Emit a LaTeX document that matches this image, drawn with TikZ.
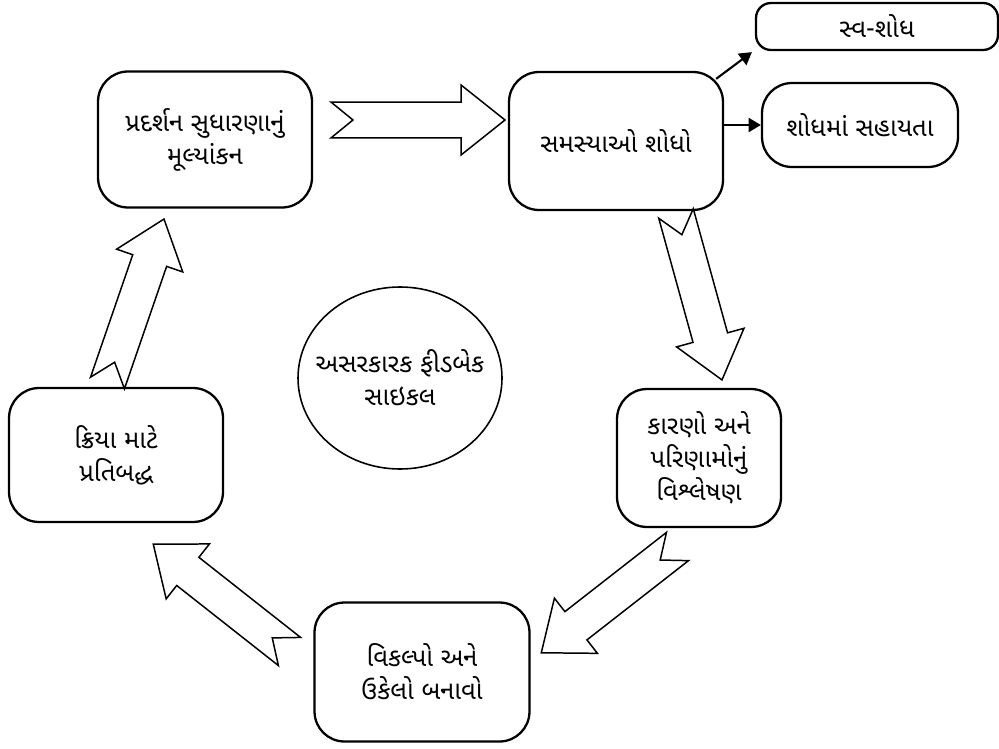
\documentclass[tikz,border=0pt]{standalone}
\usepackage{fontspec}
\newfontfamily\gujfont[Script=Gujarati]{Noto Sans Gujarati UI}
\usetikzlibrary{calc,arrows.meta}

\tikzset{
  stepbox/.style={draw, line width=1.3pt, rounded corners=0.6cm, align=center,
    inner sep=0pt, font=\gujfont\fontsize{14.6}{18.8}\selectfont},
  bigarrow/.style={draw, line width=0.85pt, line join=miter},
  thinarrow/.style={line width=1.2pt, -{Triangle[length=7pt,width=8pt]}}
}

% hollow block arrow with a notched tail, from #1 to #2
\newcommand{\fatarrow}[2]{%
  \draw[bigarrow] let \p1=($(#2)-(#1)$), \n1={atan2(\y1,\x1)}, \n2={veclen(\x1,\y1)} in
    [shift={(#1)}, rotate=\n1]
    (0pt,10.2pt) -- (\n2-25pt,10.2pt) -- (\n2-25pt,19.9pt) -- (\n2,0pt)
    -- (\n2-25pt,-19.9pt) -- (\n2-25pt,-10.2pt) -- (0pt,-10.2pt) -- (12.5pt,0pt) -- cycle;}

\begin{document}
\begin{tikzpicture}[x=0.02cm, y=0.02cm]

    \useasboundingbox (0,0) rectangle (999,748);

    % Draw the boxes of the cycle
    \node[stepbox, minimum width=4.28cm, minimum height=2.72cm] (eval) at (205,608.5) {પ્રદર્શન સુધારણાનું\\મૂલ્યાંકન};
    \node[stepbox, minimum width=4.28cm, minimum height=2.76cm] (find) at (616,607) {સમસ્યાઓ શોધો};
    \node[stepbox, minimum width=3.28cm, minimum height=2.76cm] (analyse) at (699,290) {કારણો અને\\પરિણામોનું\\વિશ્લેષણ};
    \node[stepbox, minimum width=4.3cm, minimum height=2.78cm] (options) at (422,76) {વિકલ્પો અને\\ઉકેલો બનાવો};
    \node[stepbox, minimum width=4.28cm, minimum height=2.68cm] (commit) at (116,293) {ક્રિયા માટે\\પ્રતિબદ્ધ};

    % Draw the two side boxes
    \node[stepbox, rounded corners=0.3cm, minimum width=4.84cm, minimum height=0.94cm] (self) at (877,721.5) {સ્વ-શોધ};
    \node[stepbox, minimum width=3.92cm, minimum height=1.68cm] (help) at (860,623) {શોધમાં સહાયતા};

    % Draw the ellipse in the middle
    \node[align=center, inner sep=0pt, font=\gujfont\fontsize{14.6}{18.8}\selectfont] (core) at (400,370) {અસરકારક ફીડબેક\\સાઇકલ};
    \draw[line width=0.9pt] (core) ellipse [x radius=102, y radius=91];

    % Draw the thin arrows
    \draw[thinarrow] ($(find.north east)+(-8,-8)$) -- ($(self.south west)+(-3,-1)$);
    \draw[thinarrow] (find.east |- help.west) -- (help.west);

    % Draw the block arrows
    \coordinate (t1) at (331,628);   \coordinate (h1) at (505,628);
    \coordinate (t2) at (676,534.5); \coordinate (h2) at (722,368);
    \coordinate (t3) at (677.5,201.5); \coordinate (h3) at (541,95);
    \coordinate (t4) at (289.5,96.5); \coordinate (h4) at (153,204);
    \coordinate (t5) at (107.5,365); \coordinate (h5) at (164,529);
    \fatarrow{t1}{h1}
    \fatarrow{t2}{h2}
    \fatarrow{t3}{h3}
    \fatarrow{t4}{h4}
    \fatarrow{t5}{h5}

\end{tikzpicture}
\end{document}
